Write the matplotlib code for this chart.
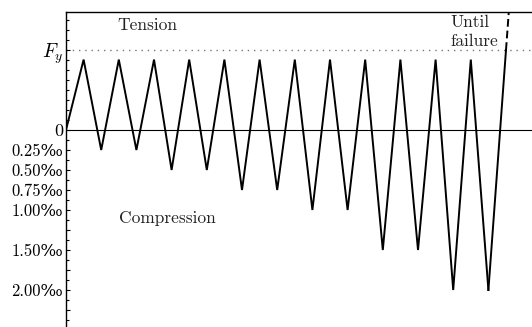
import numpy as np
import matplotlib
matplotlib.use("Agg")
import matplotlib.pyplot as plt
from matplotlib.ticker import FixedLocator

plt.rcParams['mathtext.fontset'] = 'cm'
plt.rcParams['font.family'] = ['cmr10', 'DejaVu Serif']
plt.rcParams['axes.unicode_minus'] = False

# Data (y in per-mille units; tension expressed relative so Fy = 1.0)
Fy = 1.0
peak_values = [0.88, 0.88, 0.88, 0.88, 0.88, 0.88, 0.88, 0.88, 0.88, 0.88, 0.88, 0.88]
trough_values = [-0.25, -0.25, -0.50, -0.50, -0.75, -0.75,
                 -1.00, -1.00, -1.50, -1.50, -2.00, -2.00]
tick_values = [Fy, 0, -0.25, -0.50, -0.75, -1.00, -1.25, -1.50, -1.75, -2.00, -2.25]
tick_labels = [r'$F_y$', '0', '0.25‰', '0.50‰', '0.75‰', '1.00‰', '',
               '1.50‰', '', '2.00‰', '']

# Build load path: start at 0, alternate peak / trough
ys = [0.0]
for p, t in zip(peak_values, trough_values):
    ys.extend([p, t])
xs = np.arange(len(ys))

fig = plt.figure(figsize=(5.32, 3.27), dpi=100)
ax = fig.add_axes([66/532, 0, 1 - 66/532, 1 - 12/327])

ax.axhline(0, color='black', lw=0.8, zorder=1)
ax.axhline(Fy, color='#777777', lw=1.0, linestyle=(0, (1, 3.5)), zorder=1)

ax.plot(xs, ys, color='black', lw=1.4, solid_joinstyle='miter', zorder=3)

# Final ramp until failure
x_last = xs[-1]
ax.plot([x_last, x_last + 1], [ys[-1], Fy], color='black', lw=1.4, zorder=3)
slope = (Fy - ys[-1]) / 1.0
ax.plot([x_last + 1, x_last + 1.3], [Fy, Fy + slope * 0.3], color='black', lw=1.4,
        linestyle=(0, (4, 2)), zorder=3)

ax.set_xlim(0, 466/17.6)
ax.set_ylim(-(327 - 130)/80, (130 - 12)/80)

for s in ['right', 'bottom']:
    ax.spines[s].set_visible(False)
for s in ['left', 'top']:
    ax.spines[s].set_linewidth(1.0)

ax.set_xticks([])
ax.yaxis.set_major_locator(FixedLocator(tick_values))
ax.set_yticklabels(tick_labels)
minor = [v for v in np.arange(-2.5, 1.5, 0.125) if all(abs(v - t) > 1e-6 for t in tick_values)]
ax.yaxis.set_minor_locator(FixedLocator(minor))
ax.tick_params(axis='y', which='major', direction='in', length=3.2, width=0.8,
               labelsize=12, pad=2)
ax.tick_params(axis='y', which='minor', direction='in', length=1.8, width=0.8)
for lbl in ax.get_yticklabels():
    if lbl.get_text() == r'$F_y$':
        lbl.set_fontsize(14)
    elif lbl.get_text() == '0':
        lbl.set_fontsize(13)

ax.text((147 - 66)/17.6, (130 - 25)/80, 'Tension', ha='center', va='center',
        fontsize=12.5, color='#222222')
ax.text((167 - 66)/17.6, -(218 - 130)/80, 'Compression', ha='center', va='center',
        fontsize=12.5, color='#222222')
ax.text((450 - 66)/17.6, (130 - 32)/80, 'Until\nfailure', ha='left', va='center',
        fontsize=12.5, color='#222222', linespacing=1.35)

fig.savefig('out.png', dpi=100)
